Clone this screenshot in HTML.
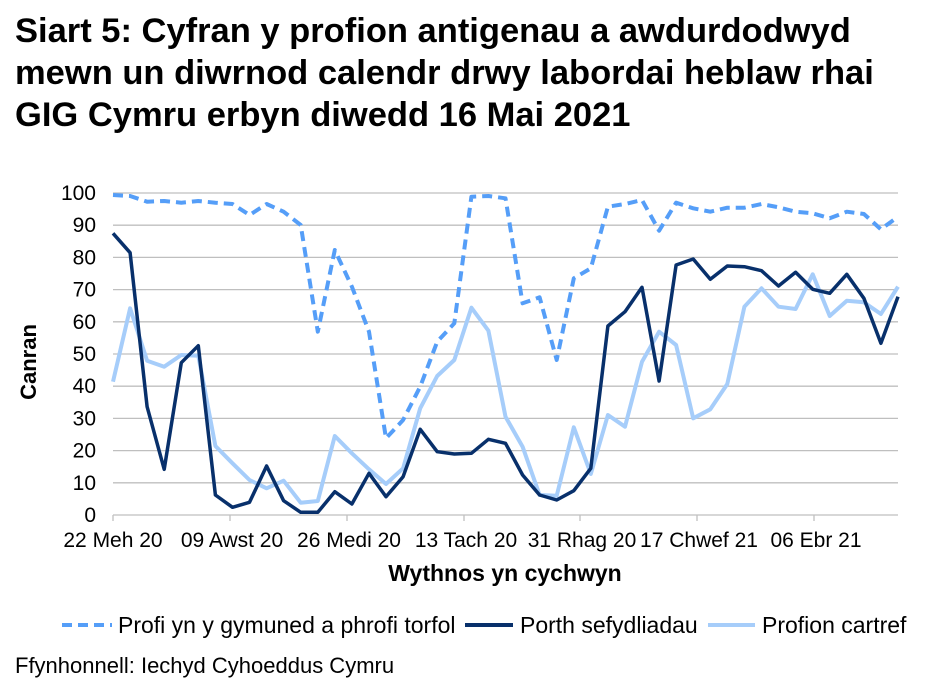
<!DOCTYPE html><html><head><style>body{margin:0;background:#fff}svg{display:block;font-family:"Liberation Sans",Arial,sans-serif}</style></head><body>
<svg id="s" width="926" height="693" xmlns="http://www.w3.org/2000/svg">
<rect width="926" height="693" fill="#fff"/>
<text x="15" y="42" font-size="34.5" font-weight="bold" fill="#000">Siart 5: Cyfran y profion antigenau a awdurdodwyd</text>
<text x="15" y="84" font-size="34.5" font-weight="bold" fill="#000">mewn un diwrnod calendr drwy labordai heblaw rhai</text>
<text x="15" y="126" font-size="34.5" font-weight="bold" fill="#000">GIG Cymru erbyn diwedd 16 Mai 2021</text>
<g id="grid" stroke="#bfbfbf" stroke-width="1.3"></g>
<g id="yl" font-size="21" text-anchor="end" fill="#000"></g>
<g font-size="21" text-anchor="middle" fill="#000">
<text x="113" y="547">22 Meh 20</text><text x="232" y="547">09 Awst 20</text><text x="349" y="547">26 Medi 20</text><text x="466" y="547">13 Tach 20</text><text x="582" y="547">31 Rhag 20</text><text x="699" y="547">17 Chwef 21</text><text x="816" y="547">06 Ebr 21</text>
</g>
<text x="505" y="581" font-size="23" font-weight="bold" text-anchor="middle">Wythnos yn cychwyn</text>
<text transform="translate(36,362) rotate(-90)" font-size="22" font-weight="bold" text-anchor="middle">Canran</text>
<g id="lines" fill="none" stroke-linejoin="round"></g>
<line x1="62" y1="625" x2="112" y2="625" stroke="#559ef8" stroke-width="4" stroke-dasharray="10,6"/>
<text x="118" y="633" font-size="23">Profi yn y gymuned a phrofi torfol</text>
<line x1="465" y1="625" x2="513" y2="625" stroke="#08306b" stroke-width="4"/>
<text x="520" y="633" font-size="23">Porth sefydliadau</text>
<line x1="708" y1="625" x2="755" y2="625" stroke="#a6cdfa" stroke-width="4"/>
<text x="762" y="633" font-size="23">Profion cartref</text>
<text x="15" y="673" font-size="22">Ffynhonnell: Iechyd Cyhoeddus Cymru</text>
</svg>
<script>
var NS="http://www.w3.org/2000/svg";
function el(p,t,a){var e=document.createElementNS(NS,t);for(var k in a)e.setAttribute(k,a[k]);p.appendChild(e);return e;}
var g=document.getElementById('grid'),yl=document.getElementById('yl');
for(var i=0;i<=10;i++){var y=515-i*32.2;el(g,'line',{x1:113,x2:898,y1:y,y2:y});var t=el(yl,'text',{x:96,y:y+7});t.textContent=i*10;}
[113,230,347,464,580,697,814].forEach(function(x){el(g,'line',{x1:x,x2:x,y1:515,y2:521});});
var d=[45,48,65,63,68,63,68,72,105,72,95,135,455,210,320,455,775,720,620,485,430,50,48,55,370,352,540,295,265,80,72,60,152,68,85,95,83,83,72,82,95,100,115,95,102,148,110];
var k=[160,218,680,868,548,497,945,982,967,858,962,997,997,935,972,880,950,890,748,815,822,820,778,790,885,945,960,932,865,438,395,322,603,255,237,298,258,260,272,318,277,328,340,283,355,490,350];
var l=[605,385,542,560,525,527,798,850,900,925,902,968,963,768,820,868,912,865,685,588,540,383,452,710,800,945,947,742,882,705,740,545,455,495,715,688,612,380,325,380,387,283,408,362,367,402,320];
function pts(a){return a.map(function(v,i){return (113+i*17.065).toFixed(1)+','+(180+v/3).toFixed(1)}).join(' ');}
var L=document.getElementById('lines');
el(L,'polyline',{points:pts(l),stroke:'#a6cdfa','stroke-width':4});
el(L,'polyline',{points:pts(k),stroke:'#08306b','stroke-width':3.5});
el(L,'polyline',{points:pts(d),stroke:'#559ef8','stroke-width':4,'stroke-dasharray':'10,6'});
</script>
</body></html>
